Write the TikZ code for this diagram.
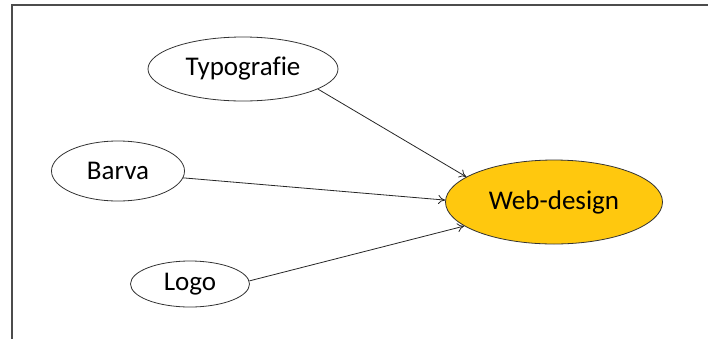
\documentclass[tikz,border=0pt]{standalone}
\usepackage{fontspec}
\setmainfont[Ligatures=NoCommon]{Carlito}
\usetikzlibrary{shapes.geometric,arrows.meta}
\definecolor{webfill}{RGB}{255,200,14}
\tikzset{
  topic/.style={ellipse, draw=black!80, line width=0.8pt, inner sep=0pt,
    font=\fontsize{27}{32}\selectfont},
  link/.style={draw=black!85, line width=0.8pt, -{To[length=7pt,width=9pt]}},
  frame/.style={draw=black!70, line width=1.6pt}
}
\begin{document}
\begin{tikzpicture}[x=1pt,y=-1pt]
  \useasboundingbox (0,0) rectangle (709,338);
  % enclosing frame (only the top and left edges fall inside the page)
  \draw[frame] (12,340) -- (12,5) -- (708,5);

  \node[topic, minimum width=190pt, minimum height=64pt] (typ) at (243,69) {Typografie};
  \node[topic, minimum width=133pt, minimum height=60pt] (bar) at (118,171) {Barva};
  \node[topic, minimum width=119pt, minimum height=46pt] (logo) at (190,284) {Logo};
  \node[topic, fill=webfill, minimum width=217pt, minimum height=84pt] (web) at (554,202) {Web-design};

  \draw[link] (typ.-15) -- (web.164);
  \draw[link] (bar.-6) -- (web.179);
  \draw[link] (logo.3) -- (web.195);
\end{tikzpicture}
\end{document}
